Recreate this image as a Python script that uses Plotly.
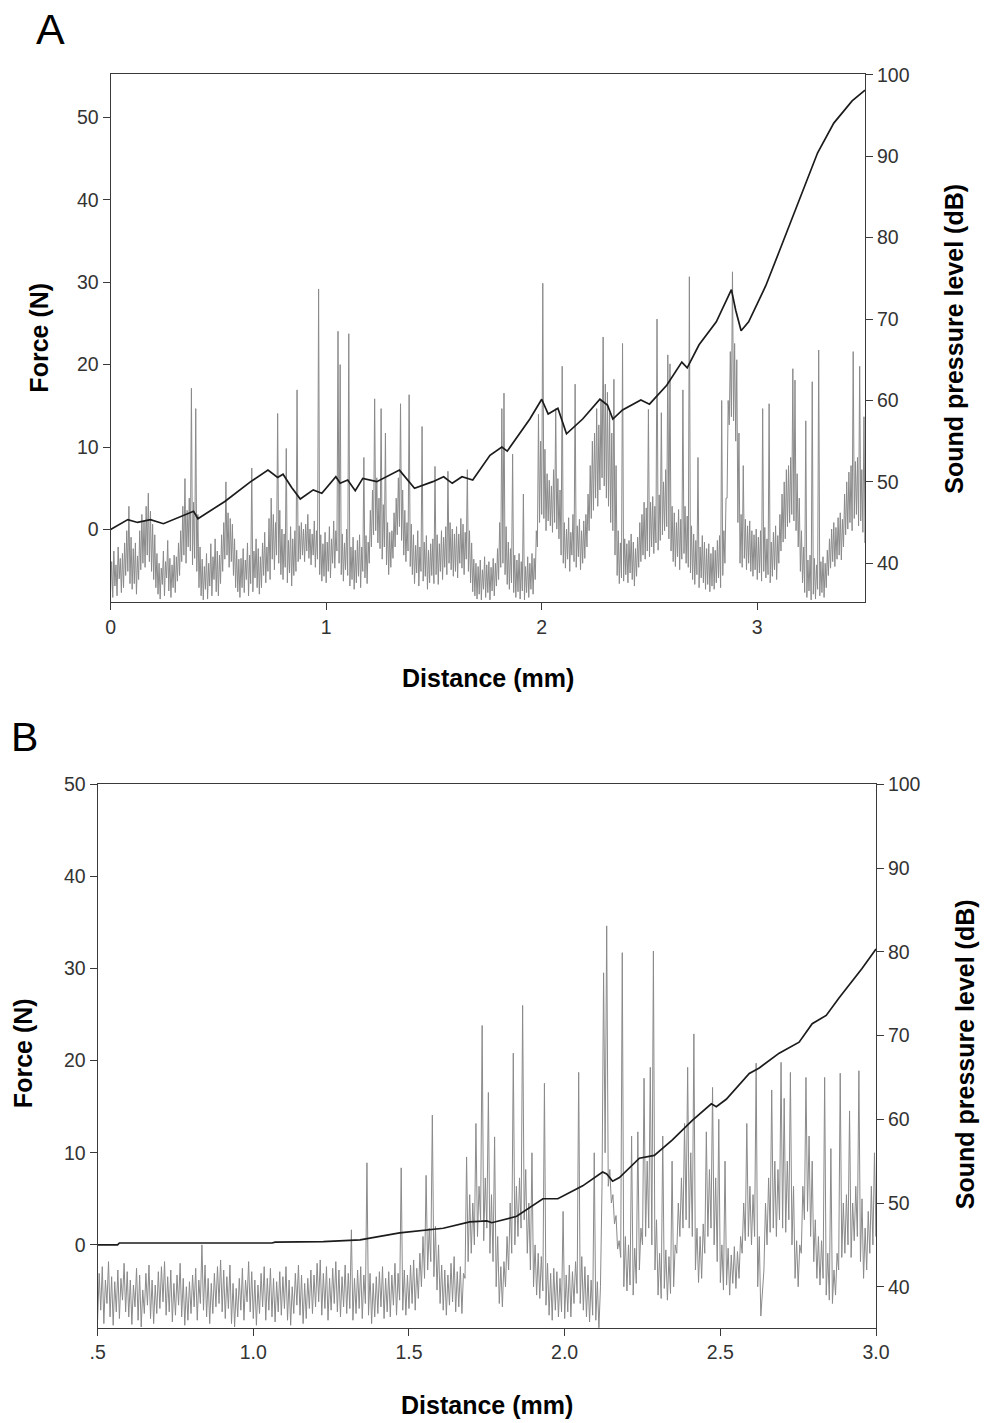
import plotly.graph_objects as go

W, H = 1000, 1423
FONT = "Arial, Liberation Sans, sans-serif"

# ---------------- Panel A data ----------------
# Sound pressure level (dB), sampled every 0.01 mm from 0.00 to 3.50 mm;
# each sample holds the low and high excursion of the recorded signal.
spl_a_x0, spl_a_step = 0.0, 0.01
spl_a_lo = [
    36.5, 35.8, 37.2, 36.0, 38.1, 36.4, 37.0, 38.5, 39.0, 37.5,
    36.8, 37.5, 36.2, 38.0, 39.2, 40.0, 39.5, 41.0, 40.2, 39.0,
    38.0, 37.0, 36.2, 35.6, 37.4, 36.0, 38.2, 36.6, 35.8, 37.0,
    36.4, 37.8, 38.5, 40.2, 41.0, 40.0, 42.0, 41.5, 39.8, 40.6,
    39.0, 37.0, 36.0, 35.5, 36.8, 35.6, 37.2, 36.0, 38.0, 36.5,
    36.0, 37.5, 39.0, 40.5, 41.0, 39.5, 40.2, 38.5, 37.0, 36.5,
    35.8, 37.0, 36.4, 38.0, 36.0, 37.5, 36.5, 38.2, 37.0, 36.2,
    37.0, 38.5, 37.6, 39.0, 38.0, 40.5, 39.2, 41.0, 40.0, 38.6,
    38.0, 39.5, 37.6, 38.8, 37.2, 38.5, 39.0, 40.2, 40.5, 41.0,
    40.2, 41.5, 40.6, 39.8, 41.0, 39.5, 40.5, 38.6, 37.8, 38.4,
    37.6, 39.0, 38.2, 40.0, 39.4, 41.5, 40.0, 38.6, 37.8, 39.2,
    38.5, 37.2, 38.0, 36.8, 37.6, 38.4, 37.0, 39.0, 38.2, 37.5,
    40.0, 42.0, 43.5, 44.0, 42.5, 41.8, 40.5, 42.0, 39.8, 38.6,
    39.5, 40.6, 42.0, 43.5, 44.5, 42.8, 41.0, 40.2, 41.5, 39.6,
    38.6, 37.5, 38.8, 37.2, 39.0, 37.8, 38.4, 36.8, 37.6, 38.5,
    37.5, 38.6, 37.4, 39.0, 38.0, 39.5, 38.6, 40.0, 39.2, 38.4,
    39.0, 38.2, 40.0, 39.4, 38.6, 40.5, 39.0, 37.6, 36.5, 36.0,
    35.6, 36.2, 35.5, 36.8, 35.8, 36.4, 35.5, 36.6, 36.0, 37.2,
    38.0, 39.5, 40.0, 38.6, 37.4, 36.8, 37.6, 36.4, 35.8, 36.5,
    35.6, 36.6, 35.5, 36.4, 35.8, 36.8, 36.2, 38.0, 42.0, 45.0,
    46.0, 45.5, 44.0, 45.2, 44.6, 43.8, 45.0, 44.2, 43.0, 41.0,
    40.0, 39.4, 40.5, 39.0, 41.0, 40.2, 39.5, 40.8, 39.2, 40.0,
    40.6, 42.0, 44.0, 45.5, 46.5, 48.0, 47.0, 49.0, 50.5, 49.5,
    48.0, 47.0, 45.0, 44.0, 41.0, 38.5, 37.5, 38.2, 37.8, 38.6,
    37.6, 38.8, 38.0, 37.2, 38.4, 39.5, 40.2, 41.0, 40.5, 41.5,
    40.8, 42.0, 41.2, 42.5, 41.6, 42.8, 43.5, 44.0, 44.5, 43.0,
    41.5, 40.2, 39.6, 40.8, 39.2, 40.5, 41.2, 40.0, 39.5, 38.8,
    38.0, 37.4, 38.6, 37.0, 38.2, 37.6, 36.8, 37.4, 36.5, 37.2,
    36.8, 37.6, 38.2, 37.0, 38.5, 40.0, 48.0, 57.0, 58.0, 57.5,
    55.0, 45.0, 40.0, 39.5, 40.6, 39.2, 40.0, 39.0, 38.4, 39.2,
    38.0, 38.8, 37.8, 39.0, 38.2, 38.6, 37.6, 38.4, 39.2, 38.0,
    40.0, 41.5, 42.6, 43.0, 44.5, 45.0, 46.0, 45.2, 44.0, 42.0,
    39.0, 37.6, 36.4, 35.8, 36.6, 35.5, 36.2, 35.6, 36.8, 36.0,
    36.4, 35.8, 37.0, 38.5, 39.4, 40.2, 39.6, 40.5, 41.0, 40.4,
    42.0, 43.5, 44.2, 45.0, 44.0, 45.5, 46.0, 44.6, 45.2, 43.8, 42.5,
]
spl_a_hi = [
    40.2, 41.5, 39.8, 42.0, 40.6, 41.2, 42.5, 44.0, 47.0, 43.2,
    41.8, 42.5, 40.9, 44.0, 46.0, 45.2, 47.0, 48.6, 46.4, 44.8,
    43.5, 41.2, 40.0, 39.4, 41.5, 40.2, 42.8, 40.6, 39.8, 41.0,
    40.8, 42.5, 44.0, 47.0, 50.4, 46.5, 48.0, 61.5, 47.5, 59.0,
    46.0, 42.0, 40.5, 39.6, 41.2, 40.0, 42.4, 40.8, 43.0, 41.5,
    41.0, 43.5, 45.0, 50.0, 46.2, 45.5, 44.8, 43.0, 41.6, 40.5,
    40.6, 41.8, 40.4, 42.5, 41.0, 51.7, 41.5, 43.0, 41.8, 40.8,
    42.5, 43.8, 42.0, 45.5, 48.0, 46.0, 45.0, 58.4, 46.5, 44.2,
    43.6, 54.1, 42.8, 44.5, 43.0, 44.0, 61.3, 44.6, 45.0, 44.2,
    44.8, 46.0, 44.2, 43.6, 45.2, 44.0, 73.7, 43.5, 42.4, 43.8,
    42.6, 44.5, 43.0, 45.2, 44.0, 68.5, 64.4, 43.6, 42.5, 44.2,
    68.2, 42.0, 43.2, 41.6, 42.8, 43.5, 42.0, 53.0, 43.4, 42.6,
    46.5, 49.0, 60.2, 50.5, 48.0, 59.0, 47.2, 56.0, 45.0, 43.8,
    44.0, 46.2, 48.0, 50.5, 59.6, 49.0, 46.5, 45.0, 60.7, 44.8,
    43.5, 42.2, 44.0, 42.0, 56.8, 42.6, 43.4, 41.6, 42.4, 43.0,
    51.9, 43.5, 42.4, 44.0, 43.2, 44.5, 51.3, 45.0, 44.2, 43.6,
    44.5, 43.6, 45.5, 44.8, 43.8, 51.5, 44.0, 42.5, 40.5, 40.0,
    39.6, 40.4, 39.2, 40.8, 39.8, 40.2, 39.5, 40.6, 40.0, 41.8,
    45.0, 59.0, 60.9, 44.5, 42.6, 41.8, 53.4, 41.0, 40.4, 41.2,
    40.2, 48.5, 39.6, 40.8, 40.0, 41.2, 40.6, 44.0, 58.3, 55.0,
    74.4, 54.0, 51.0, 50.2, 49.5, 51.5, 59.0, 50.4, 49.0, 64.2,
    45.0, 44.2, 45.6, 43.8, 46.0, 62.0, 44.6, 45.4, 44.0, 45.2,
    46.0, 48.5, 52.0, 55.0, 56.0, 59.0, 57.0, 60.0, 67.8, 62.0,
    61.0, 58.5, 56.0, 62.6, 52.0, 44.0, 42.5, 67.0, 43.0, 42.4,
    42.8, 43.6, 42.6, 41.8, 43.2, 45.0, 46.0, 47.5, 46.8, 58.9,
    47.5, 48.2, 47.0, 70.0, 48.4, 58.5, 50.0, 51.5, 65.6, 64.5,
    47.0, 46.2, 45.0, 46.6, 45.4, 61.3, 47.0, 45.8, 75.2, 44.6,
    43.6, 42.8, 53.0, 42.0, 43.4, 42.6, 41.8, 42.4, 41.2, 42.0,
    41.6, 42.8, 43.4, 60.0, 44.0, 48.0, 60.0, 66.0, 75.8, 67.0,
    65.0, 56.0, 46.0, 52.0, 45.4, 44.6, 45.2, 44.0, 43.5, 44.2,
    43.2, 44.0, 59.0, 44.4, 43.0, 59.6, 42.6, 43.8, 44.6, 43.4,
    46.0, 48.5, 50.0, 51.5, 52.0, 53.0, 63.9, 62.5, 51.0, 48.0,
    44.0, 42.0, 57.5, 40.4, 41.0, 62.3, 40.6, 39.8, 66.2, 40.2,
    40.8, 40.0, 41.6, 43.0, 44.2, 45.0, 44.4, 45.6, 46.2, 45.4,
    48.5, 50.0, 51.2, 52.0, 66.0, 52.5, 53.0, 64.2, 51.5, 58.0, 49.0,
]

# Force (N) against distance (mm)
force_a_x = [0.00, 0.08, 0.125, 0.185, 0.245, 0.385, 0.405, 0.53, 0.65, 0.73,
             0.775, 0.80, 0.84, 0.88, 0.94, 0.98, 1.045, 1.065, 1.10, 1.135,
             1.17, 1.235, 1.34, 1.41, 1.495, 1.545, 1.585, 1.63, 1.68, 1.76,
             1.815, 1.84, 1.945, 2.00, 2.03, 2.075, 2.115, 2.19, 2.27, 2.305,
             2.33, 2.375, 2.46, 2.50, 2.58, 2.65, 2.675, 2.73, 2.81, 2.88,
             2.90, 2.925, 2.96, 3.04, 3.10, 3.19, 3.28, 3.355, 3.44, 3.50]
force_a_y = [0.0, 1.2, 0.85, 1.2, 0.7, 2.2, 1.3, 3.4, 5.8, 7.2,
             6.3, 6.7, 5.1, 3.7, 4.8, 4.4, 6.4, 5.6, 6.0, 4.7,
             6.2, 5.8, 7.2, 5.0, 5.8, 6.4, 5.6, 6.4, 6.0, 9.0,
             10.0, 9.5, 13.4, 15.8, 14.0, 14.7, 11.6, 13.4, 15.8, 15.1,
             13.4, 14.5, 15.7, 15.2, 17.5, 20.3, 19.6, 22.4, 25.2, 29.1,
             26.6, 24.1, 25.2, 29.6, 33.6, 39.7, 45.7, 49.3, 52.0, 53.3]

# ---------------- Panel B data ----------------
spl_b_x0, spl_b_step = 0.5, 0.01
spl_b_lo = [
    36.0, 37.2, 35.6, 38.0, 36.4, 35.4, 37.0, 36.2, 38.4, 37.0,
    36.4, 35.5, 37.6, 36.0, 35.2, 36.8, 37.8, 36.2, 35.6, 36.8,
    37.4, 38.2, 36.6, 37.0, 35.8, 36.6, 37.8, 36.4, 35.4, 36.0,
    36.8, 37.6, 36.0, 38.0, 37.2, 36.4, 35.6, 36.8, 37.6, 38.0,
    37.0, 36.2, 37.4, 35.6, 35.2, 36.4, 37.2, 36.0, 38.2, 37.0,
    36.2, 35.4, 36.8, 37.6, 36.0, 37.2, 36.4, 35.8, 37.0, 36.6,
    37.4, 36.0, 35.4, 36.8, 37.8, 36.6, 35.6, 36.2, 37.4, 36.8,
    37.6, 38.2, 36.6, 37.4, 36.0, 37.2, 38.0, 37.0, 36.4, 37.6,
    36.8, 37.4, 36.0, 36.8, 37.4, 36.2, 38.0, 36.6, 35.6, 36.4,
    36.8, 37.6, 36.2, 37.0, 36.4, 37.8, 36.6, 38.4, 37.2, 36.6,
    37.4, 38.0, 37.2, 38.6, 40.0, 41.0, 42.0, 43.0, 41.2, 39.6,
    38.0, 37.2, 36.6, 37.8, 38.2, 37.0, 37.6, 36.8, 41.0, 43.0,
    44.0, 45.0, 46.0, 48.0, 45.5, 47.0, 44.0, 43.0, 40.0, 38.0,
    37.6, 40.0, 42.0, 44.0, 45.0, 46.0, 47.0, 48.0, 44.0, 42.0,
    40.0, 39.0, 38.6, 39.5, 37.8, 36.6, 36.0, 37.2, 36.4, 37.0,
    36.2, 37.0, 36.4, 38.0, 39.2, 38.0, 37.2, 36.4, 35.8, 36.6,
    36.0, 35.0, 52.0, 56.0, 52.0, 50.0, 47.5, 44.5, 43.5, 40.0,
    39.5, 40.2, 39.0, 40.4, 42.0, 45.0, 46.0, 47.0, 45.0, 42.0,
    39.0, 38.6, 39.8, 38.4, 39.2, 40.0, 44.0, 46.0, 47.0, 48.0,
    47.0, 46.0, 42.0, 40.5, 41.0, 44.0, 46.0, 47.0, 45.0, 43.0,
    40.5, 39.6, 40.2, 39.0, 40.4, 39.8, 41.0, 44.0, 45.5, 46.0,
    45.0, 46.0, 40.0, 36.5, 42.0, 45.0, 46.5, 47.0, 46.0, 48.0,
    47.0, 46.5, 48.0, 45.0, 41.0, 40.0, 44.0, 48.0, 49.0, 46.0,
    43.0, 41.0, 40.2, 41.0, 39.0, 38.4, 38.0, 39.0, 42.0, 43.5,
    44.0, 45.0, 43.5, 45.5, 46.0, 43.0, 41.0, 42.0, 44.0, 45.0, 46.0,
]
spl_b_hi = [
    41.6, 42.4, 40.8, 43.0, 41.2, 40.6, 42.0, 41.0, 42.8, 41.8,
    40.8, 40.2, 42.2, 41.4, 39.6, 41.6, 42.6, 40.8, 40.2, 41.8,
    42.4, 43.0, 41.2, 42.0, 40.4, 41.4, 42.8, 41.0, 40.0, 40.6,
    41.4, 42.2, 40.8, 45.0, 42.6, 41.0, 40.4, 41.6, 42.4, 43.2,
    42.0, 41.2, 42.6, 40.4, 39.8, 41.0, 42.2, 40.8, 43.0, 41.8,
    40.8, 40.2, 41.6, 42.4, 41.0, 42.2, 41.0, 40.6, 41.8, 41.2,
    42.4, 40.8, 40.0, 41.6, 42.6, 41.4, 40.4, 41.0, 42.0, 41.4,
    42.8, 43.2, 41.6, 42.4, 41.0, 42.2, 43.0, 42.0, 41.2, 42.6,
    41.6, 46.8, 41.0, 42.0, 42.4, 41.4, 54.8, 41.6, 40.4, 41.2,
    41.8, 42.4, 41.0, 41.8, 41.4, 42.8, 41.6, 54.2, 42.0, 41.4,
    42.6, 43.2, 42.2, 44.0, 46.0, 53.3, 47.0, 60.5, 47.2, 45.0,
    42.6, 42.0, 41.4, 42.8, 43.6, 41.8, 42.4, 41.6, 55.5, 51.0,
    50.0, 59.5, 52.0, 71.2, 53.0, 63.2, 51.0, 57.9, 46.0, 42.4,
    43.0, 46.0, 50.0, 67.9, 52.0, 53.0, 73.6, 54.0, 50.0, 56.0,
    45.0, 44.0, 43.6, 64.3, 42.8, 41.6, 42.2, 41.8, 41.0, 49.0,
    41.4, 42.6, 41.8, 43.0, 65.6, 43.6, 42.4, 41.4, 40.8, 56.0,
    40.6, 40.0, 77.5, 83.1, 54.0, 51.0, 48.5, 45.5, 79.9, 46.0,
    45.0, 58.0, 44.6, 58.5, 47.0, 64.9, 55.0, 66.2, 80.1, 48.0,
    44.0, 58.0, 44.4, 43.6, 55.0, 45.0, 50.0, 53.0, 59.5, 66.2,
    56.0, 70.2, 47.0, 46.0, 47.5, 58.5, 54.0, 63.8, 53.0, 60.0,
    45.0, 55.0, 44.6, 43.8, 44.8, 44.2, 46.0, 50.0, 59.5, 52.0,
    51.0, 66.7, 46.0, 40.0, 50.0, 53.0, 63.5, 55.0, 54.0, 66.8,
    62.5, 55.0, 65.6, 52.0, 45.5, 45.0, 52.0, 65.0, 58.0, 55.0,
    48.0, 46.0, 45.5, 65.0, 44.0, 56.5, 42.0, 44.0, 65.5, 50.0,
    51.0, 61.0, 50.0, 52.0, 65.8, 50.5, 47.0, 49.0, 52.0, 56.0, 66.0,
]

force_b_x = [0.50, 0.564, 0.57, 1.06, 1.07, 1.225, 1.343, 1.47, 1.61, 1.695,
             1.75, 1.766, 1.846, 1.93, 1.978, 2.058, 2.122, 2.135, 2.154, 2.176,
             2.24, 2.288, 2.346, 2.41, 2.471, 2.487, 2.519, 2.593, 2.625, 2.689,
             2.753, 2.795, 2.84, 2.881, 2.955, 3.00]
force_b_y = [0.0, 0.0, 0.2, 0.2, 0.3, 0.35, 0.55, 1.3, 1.8, 2.5,
             2.6, 2.4, 3.1, 5.0, 5.0, 6.4, 7.9, 7.7, 6.9, 7.3,
             9.4, 9.7, 11.4, 13.5, 15.3, 15.0, 15.8, 18.6, 19.2, 20.8,
             22.0, 24.0, 24.9, 26.8, 30.0, 32.1]


def interleave(x0, step, lo, hi):
    """Turn per-sample low/high excursions into a continuous zig-zag trace."""
    xs, ys = [], []
    for i, (a, b) in enumerate(zip(lo, hi)):
        x = x0 + i * step
        xs += [x, x + step / 2]
        ys += [a, b]
    return xs, ys


spl_a_xs, spl_a_ys = interleave(spl_a_x0, spl_a_step, spl_a_lo, spl_a_hi)
spl_b_xs, spl_b_ys = interleave(spl_b_x0, spl_b_step, spl_b_lo, spl_b_hi)

GRAY = "#8a8a8a"
BLACK = "#1c1c1c"

fig = go.Figure()
fig.add_trace(go.Scatter(x=spl_a_xs, y=spl_a_ys, mode="lines",
                         line=dict(color=GRAY, width=1), xaxis="x", yaxis="y"))
fig.add_trace(go.Scatter(x=force_a_x, y=force_a_y, mode="lines",
                         line=dict(color=BLACK, width=1.7), xaxis="x", yaxis="y2"))
fig.add_trace(go.Scatter(x=spl_b_xs, y=spl_b_ys, mode="lines",
                         line=dict(color=GRAY, width=1), xaxis="x2", yaxis="y3"))
fig.add_trace(go.Scatter(x=force_b_x, y=force_b_y, mode="lines",
                         line=dict(color=BLACK, width=1.7), xaxis="x2", yaxis="y4"))

AX = "#3a3a3a"
tickfont = dict(family=FONT, size=19.5, color="#333333")
base = dict(showline=True, linecolor=AX, linewidth=1, ticks="outside", ticklen=7,
            tickcolor=AX, tickwidth=1, tickfont=tickfont, showgrid=False,
            zeroline=False, fixedrange=True)

# Layout positions are given in page pixels and converted to paper fractions,
# allowing for the page's body offset and the way the page is displayed.
SX, OX = 0.98, 7.2
SY, OY = 0.9944, 8.4


def px_x(p):
    return ((p - OX) / SX) / W


def px_y(p):
    return 1 - ((p - OY) / SY) / H


fig.update_layout(
    width=W, height=H, margin=dict(l=0, r=0, t=0, b=0),
    paper_bgcolor="white", plot_bgcolor="white", showlegend=False,
    xaxis=dict(base, domain=[px_x(110), px_x(866)], range=[0, 3.5],
               tickvals=[0, 1, 2, 3], mirror=True, anchor="y"),
    yaxis=dict(base, domain=[px_y(601), px_y(72)], range=[35.2, 100.05],
               side="right", tickvals=[40, 50, 60, 70, 80, 90, 100], anchor="x"),
    yaxis2=dict(base, overlaying="y", side="left", range=[-8.84, 55.2],
                tickvals=[0, 10, 20, 30, 40, 50], anchor="x"),
    xaxis2=dict(base, domain=[px_x(97), px_x(877)], range=[0.5, 3.0],
                tickvals=[0.5, 1.0, 1.5, 2.0, 2.5, 3.0],
                ticktext=[".5", "1.0", "1.5", "2.0", "2.5", "3.0"],
                mirror=True, anchor="y3"),
    yaxis3=dict(base, domain=[px_y(1328), px_y(783)], range=[35.1, 100.05],
                side="right", tickvals=[40, 50, 60, 70, 80, 90, 100], anchor="x2"),
    yaxis4=dict(base, overlaying="y3", side="left", range=[-9.0, 50.02],
                tickvals=[0, 10, 20, 30, 40, 50], anchor="x2"),
)

title_font = dict(family=FONT, size=25, color="black")
labels = [
    ("A", 50, 26, 0, dict(family=FONT, size=43, color="black")),
    ("B", 24, 736, 0, dict(family=FONT, size=41, color="black")),
    ("<b>Force (N)</b>", 38, 336, -90, title_font),
    ("<b>Sound pressure level (dB)</b>", 955, 337, -90, title_font),
    ("<b>Distance (mm)</b>", 488, 677, 0, title_font),
    ("<b>Force (N)</b>", 23, 1053, -90, title_font),
    ("<b>Sound pressure level (dB)</b>", 967, 1054, -90, title_font),
    ("<b>Distance (mm)</b>", 487, 1405, 0, title_font),
]
for text, x, y, ang, f in labels:
    fig.add_annotation(text=text, x=px_x(x), y=px_y(y), xref="paper", yref="paper",
                       xanchor="center", yanchor="middle", showarrow=False,
                       textangle=ang, font=f)

fig.write_html("out.html")
